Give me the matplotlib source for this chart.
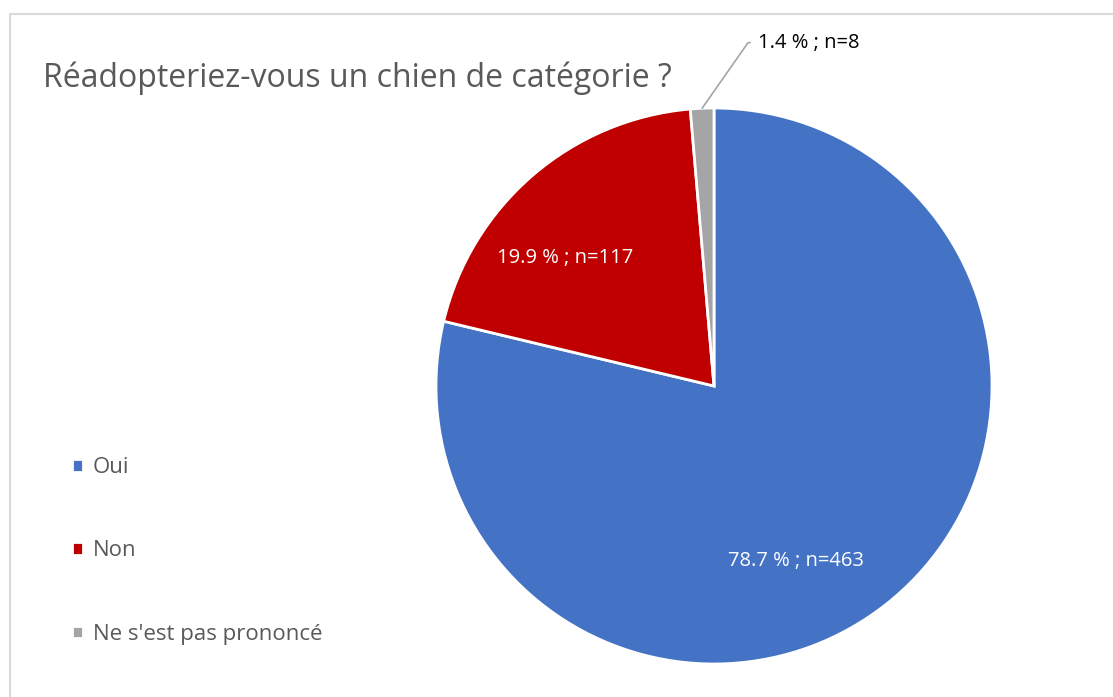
import matplotlib.pyplot as plt
import numpy as np

labels = ['Oui', 'Non', "Ne s'est pas prononcé"]
counts = [463, 117, 8]
percents = [78.7, 19.9, 1.4]
colors = ['#4472C4', '#C00000', '#A5A5A5']

plt.rcParams['font.family'] = ['Open Sans', 'DejaVu Sans']

W, H = 1113, 697
fig = plt.figure(figsize=(W / 100, H / 100), dpi=100)

# light frame (only top and left visible in the crop)
frame = plt.Rectangle((10 / W, -0.1), 1.2, (H - 14) / H + 0.1, transform=fig.transFigure,
                      fill=False, edgecolor='#D9D9D9', linewidth=1.5)
fig.patches.append(frame)

# pie axes: center (714, 386) px, radius 278 px
cx, cy, r = 714, 386, 278
ax = fig.add_axes([(cx - r) / W, (H - cy - r) / H, 2 * r / W, 2 * r / H])
wedges, _ = ax.pie(counts, colors=colors, startangle=90, counterclock=False,
                   wedgeprops=dict(edgecolor='white', linewidth=2), radius=1)
ax.set_xlim(-1, 1)
ax.set_ylim(-1, 1)
ax.set_aspect('equal')

texts = ['%.1f %% ; n=%d' % (p, n) for p, n in zip(percents, counts)]

# labels inside slices
ax.text(0.295, -0.63, texts[0], color='white', fontsize=14.5, ha='center', va='center')
ax.text(-0.535, 0.46, texts[1], color='white', fontsize=14.5, ha='center', va='center')

# small slice with leader line
th = np.deg2rad(90 - 360 * (sum(counts[:2]) + counts[2] / 2) / sum(counts))
x0, y0 = np.cos(th) * 1.0, np.sin(th) * 1.0
ax.annotate(texts[2], xy=(x0, y0), xytext=(0.16, 1.235), color='black', fontsize=14.5,
            ha='left', va='center',
            arrowprops=dict(arrowstyle='-', color='#A5A5A5', linewidth=1.2,
                            connectionstyle='angle,angleA=0,angleB=55,rad=0',
                            shrinkA=4, shrinkB=0),
            annotation_clip=False)

fig.text(43 / W, 1 - 78 / H, 'Réadopteriez-vous un chien de catégorie ?', color='#595959',
         fontsize=23, ha='left', va='center')

fig.legend(wedges, labels, loc='center left', bbox_to_anchor=(52 / W, 1 - 551 / H),
           frameon=False, fontsize=16, labelcolor='#595959', handlelength=0.5,
           handleheight=0.5, handletextpad=0.45, labelspacing=2.8)

fig.savefig('out.png', dpi=100)
